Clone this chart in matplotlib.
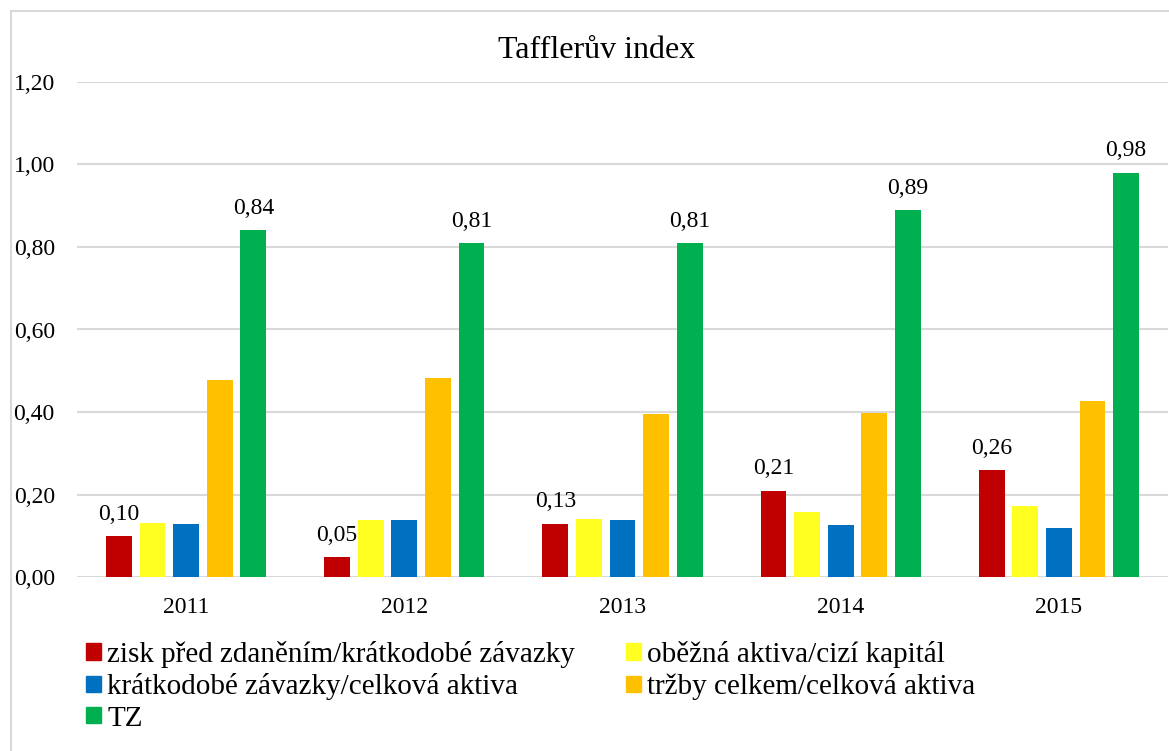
import matplotlib.pyplot as plt
import numpy as np
from matplotlib.lines import Line2D
from matplotlib.patches import Patch

plt.rcParams['font.family'] = ['Liberation Serif', 'DejaVu Serif']

years = ['2011', '2012', '2013', '2014', '2015']
series_names = ['zisk před zdaněním/krátkodobé závazky',
                'oběžná aktiva/cizí kapitál',
                'krátkodobé závazky/celková aktiva',
                'tržby celkem/celková aktiva',
                'TZ']
zisk = [0.10, 0.05, 0.13, 0.21, 0.26]
obezna = [0.131, 0.139, 0.141, 0.157, 0.173]
kratkodobe = [0.130, 0.139, 0.139, 0.126, 0.119]
trzby = [0.477, 0.483, 0.395, 0.397, 0.426]
tz = [0.84, 0.81, 0.81, 0.89, 0.98]
y_ticks = [0.0, 0.2, 0.4, 0.6, 0.8, 1.0, 1.2]

colors = ['#C00000', '#FFFF21', '#0070C0', '#FFC000', '#00B050']
all_series = [zisk, obezna, kratkodobe, trzby, tz]

fig = plt.figure(figsize=(11.69, 7.51), dpi=100)
ax = fig.add_axes([77 / 1169, 1 - 577.3 / 751, 1091 / 1169, 495.6 / 751])

x = np.arange(len(years))
step = 0.154
width = 0.119
bars = []
for i, (vals, col) in enumerate(zip(all_series, colors)):
    b = ax.bar(x + (i - 2) * step, vals, width, color=col, zorder=3)
    bars.append(b)

# popisky jen pro prvni a posledni radu
for i in (0, 4):
    for rect, v in zip(bars[i], all_series[i]):
        ax.annotate(f'{v:.2f}'.replace('.', ','),
                    (rect.get_x() + rect.get_width() / 2, v),
                    xytext=(0, 8), textcoords='offset points',
                    ha='center', va='bottom', fontsize=17)

ax.set_xlim(-0.5, 4.5)
ax.set_ylim(0, 1.2)
ax.set_yticks(y_ticks)
ax.set_yticklabels([f'{t:.2f}'.replace('.', ',') for t in y_ticks], fontsize=17)
ax.set_xticks(x)
ax.set_xticklabels(years, fontsize=17)
ax.tick_params(length=0)
ax.tick_params(axis='y', pad=16)
ax.tick_params(axis='x', pad=14)
ax.grid(axis='y', color='#d9d9d9', linewidth=1.5, zorder=0)
for s in ax.spines.values():
    s.set_visible(False)

fig.text(597 / 1169, 1 - 51 / 751, 'Tafflerův index', ha='center', va='center', fontsize=23)

handles = [Patch(color=c) for c in colors]
order = [0, 2, 4, 1, 3]
fig.legend([handles[k] for k in order], [series_names[k] for k in order],
           ncol=2, loc='upper left', bbox_to_anchor=(86 / 1169, 1 - 641 / 751),
           frameon=False, fontsize=21, handlelength=0.52, handleheight=0.5,
           handletextpad=0.2, columnspacing=1.75, labelspacing=0.18,
           borderpad=0, borderaxespad=0)

# ramecek grafu (orezany vpravo a dole)
fig.add_artist(Line2D([11 / 1169, 11 / 1169], [0, 1 - 11 / 751], color='#d9d9d9', linewidth=1.5))
fig.add_artist(Line2D([11 / 1169, 1], [1 - 11 / 751, 1 - 11 / 751], color='#d9d9d9', linewidth=1.5))

fig.savefig('out.png', dpi=100)
